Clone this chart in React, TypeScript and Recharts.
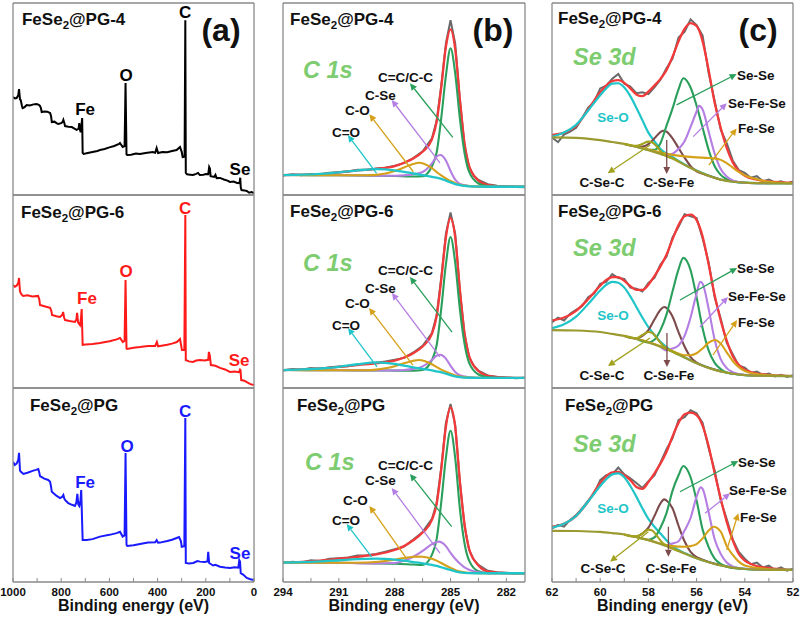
import React from 'react';
import { LineChart, Line, XAxis, YAxis, ReferenceLine, ReferenceDot } from 'recharts';

type Pt = [number, number];

// ---------------- (a) XPS survey spectra: [binding energy, intensity] ----------------
const SURVEY_PG4: Pt[] = [[1000,51],[992,50.3],[985,50.5],[978,52],[975,55.2],[971,49.8],[968,49.5],[963,46.5],[960,45.3],[952,45.8],[943,46.9],[930,46.6],[915,47.2],[902,47.4],[893,47],[888,46.4],[884,45.2],[881,43.2],[870,43.5],[858,43.4],[846,42.7],[842,41],[839,38],[828,38.2],[818,37.3],[812,37],[800,37.4],[794,38.1],[791,39.1],[787,37.5],[784,35.9],[770,35.6],[756,35.4],[745,34.6],[736,33.9],[728,34.5],[725,37.5],[722,33.8],[719,32.8],[716,36],[713,40.1],[711,21.9],[707,21.4],[690,21.9],[670,22.4],[650,22.9],[639,23.4],[620,24],[600,24.8],[580,25.5],[560,26.6],[556,27.1],[545,25],[537,25.5],[533,58.3],[529,21.2],[526,20.8],[510,21],[490,21.6],[473,21.4],[450,21.9],[420,22.4],[410,22],[404,24.5],[398,21.9],[380,22.4],[360,22.3],[340,22.9],[321,23.4],[307,25],[300,22.5],[296,19.8],[288,20],[285,91],[283,11.5],[278,10.8],[265,10.6],[253,10.4],[240,11],[232,11.5],[225,10.4],[210,10.6],[200,10.9],[190,10.8],[186,14.6],[183,13.8],[180,9.8],[165,9.4],[160,10.5],[155,8.8],[141,8.9],[125,8.1],[110,7.5],[100,6.8],[85,7],[70,6.3],[60,6.2],[57,9],[55,4],[52,2.6],[40,2.4],[30,2.1],[20,1.2],[10,1.5],[0,1]];
const SURVEY_PG6: Pt[] = [[1000,53.4],[992,52.5],[985,53],[978,54.5],[975,57],[971,50],[965,48.5],[958,47.7],[940,48],[920,47.4],[896,47.7],[891,46],[888,43],[870,42.4],[846,41.5],[841,40],[838,37.8],[820,37.2],[805,36.8],[796,37.8],[792,39.4],[788,36.5],[784,35.2],[765,34.7],[743,34.2],[737,35.5],[734,38.9],[730,34],[722,32.6],[718,36],[715,40.9],[711,22.3],[700,22.5],[670,22.8],[639,23.3],[600,24.2],[570,25.2],[556,25.9],[544,23.8],[537,24.5],[533,56],[529,20.5],[526,20.2],[500,20.8],[473,21.2],[440,21.8],[410,21.8],[403,23.8],[398,21.6],[390,21.8],[360,22.4],[340,23],[320,23.8],[307,25.4],[299,19.7],[289,19.8],[285,89.6],[283,14.5],[270,13.8],[253,13.5],[240,14.2],[224,14.5],[205,14.2],[190,14.6],[187,18.7],[183,16.5],[179,11.9],[160,11.5],[141,10.4],[120,9.6],[100,8.3],[80,8.5],[62,8.2],[58,9.5],[56,9.2],[53,4.1],[40,3.8],[30,3],[15,2],[0,1.6]];
const SURVEY_PG: Pt[] = [[1000,62],[993,60.3],[985,61],[978,63],[975,66.6],[971,57.5],[968,56.9],[957,55.7],[940,56.3],[916,57.4],[905,57.8],[895,58.2],[891,56.5],[888,54.6],[870,53.3],[854,52.6],[846,51.7],[842,49],[839,46.5],[820,44.5],[805,43.3],[795,44],[791,44.8],[787,43],[784,42.3],[771,40.7],[755,39.8],[743,39.2],[737,41],[733,45.4],[729,40],[725,39.2],[720,42],[717,47.4],[711,21.6],[694,21.6],[670,22.1],[639,23.4],[600,24.3],[570,25.2],[556,25.9],[545,23.4],[537,24],[533,66.5],[529,19.2],[526,18.6],[500,19],[473,19.6],[440,20.3],[410,20.5],[404,21.6],[398,20.2],[390,20.3],[360,21.1],[340,21.8],[321,22.7],[311,23.2],[303,21],[300,18.2],[289,18.5],[285,84.5],[283,9.8],[270,9.6],[252,9.8],[235,10.8],[224,10.5],[205,10.3],[193,10.6],[190,15.6],[186,9.8],[170,8.5],[160,8.9],[141,7.9],[120,7.5],[100,7.2],[80,7.6],[65,7.4],[61,11.3],[58,10.6],[55,4.6],[45,3.8],[30,2.1],[15,1.4],[0,1]];

// ---------------- (b) C 1s ----------------
const C1S_PG4_RAW: Pt[] = [[294,10.2],[293.5,10.8],[293,10.3],[292.5,11],[292,10.7],[291.5,11.6],[291,11.9],[290.5,12.2],[290,13.1],[289.5,13],[289,13.8],[288.5,14.2],[288,15.3],[287.5,16.6],[287,19.2],[286.5,22.8],[286,29.5],[285.75,38.5],[285.5,57],[285.25,79],[285,91],[284.75,79],[284.5,50],[284.25,26],[284,14.5],[283.75,10],[283.5,7.8],[283,5.6],[282.5,4.8],[282,4.5],[281.5,4.2],[281,4.1]];
const C1S_PG4_FIT: Pt[] = [[294,10.4],[293,10.6],[292,10.9],[291,11.8],[290,12.8],[289,13.6],[288,15],[287.5,16.8],[287,19],[286.5,22.5],[286,29],[285.75,38],[285.5,56],[285.25,77],[285,86.3],[284.75,76],[284.5,50],[284.25,27],[284,15],[283.5,7.5],[283,5.2],[282,4.4],[281,4.3]];
const C1S_PG4_CC: Pt[] = [[294,10.4],[291,10.3],[289,10.1],[288,9.9],[287,9.6],[286.5,9.8],[286,15],[285.75,22],[285.5,40],[285.25,62],[285,76.4],[284.75,63.4],[284.5,40],[284.25,22],[284,12],[283.5,6],[283,4.6],[282,4.3],[281,4.3]];
const C1S_PG4_CSE: Pt[] = [[294,10.4],[291,10.3],[289,10.1],[288,10],[287.5,10.2],[287,10.8],[286.5,12],[286,16.5],[285.75,20],[285.55,20.8],[285.25,18],[285,12.5],[284.75,8],[284.5,5.8],[284,4.7],[283.5,4.4],[283,4.3],[281,4.3]];
const C1S_PG4_CO: Pt[] = [[294,10.4],[291,10.3],[289.5,10.3],[289,10.5],[288.5,11.2],[288,12.5],[287.5,14.3],[287,16.2],[286.7,16.8],[286.4,16.2],[286,14],[285.75,12],[285.5,10.2],[285.25,8.6],[285,7.3],[284.75,6.2],[284.5,5.3],[284,4.6],[283,4.3],[281,4.3]];
const C1S_PG4_CDO: Pt[] = [[294,10.4],[293,10.6],[292,11],[291,11.8],[290,12.8],[289,13.5],[288,12.8],[287.5,12],[287,11.2],[286.5,10.3],[286,9.5],[285.75,9],[285.5,8.4],[285.25,7.5],[285,6.6],[284.75,5.7],[284.5,5.1],[284.25,4.7],[284,4.5],[283,4.3],[281,4.3]];

const C1S_PG6_RAW: Pt[] = [[294,9.1],[293.5,9.8],[293,9.4],[292.5,10.3],[292,9.9],[291.5,10.8],[291,11.2],[290.5,11.3],[290,12.2],[289.5,12.6],[289,13.1],[288.5,13.8],[288,14.6],[287.5,15.6],[287,18.4],[286.5,21.9],[286,28.5],[285.75,37.5],[285.5,57],[285.25,80],[285,91],[284.75,80],[284.5,51],[284.25,28],[284,16],[283.75,11.5],[283.5,9],[283,6.5],[282.5,5.7],[282,5.5],[281.5,5.1],[281,5.3]];
const C1S_PG6_FIT: Pt[] = [[294,9.3],[293,9.6],[292,10.1],[291,10.9],[290,11.9],[289,12.8],[288,14.2],[287.5,15.8],[287,18],[286.5,21.5],[286,28],[285.75,37],[285.5,56],[285.25,78],[285,88],[284.75,78],[284.5,51],[284.25,28.5],[284,16.5],[283.5,8.8],[283,6.3],[282,5.4],[281,5.2]];
const C1S_PG6_CC: Pt[] = [[294,9.3],[291,9.2],[289,9.1],[288,9],[287,8.9],[286.5,9.3],[286,14.5],[285.75,22],[285.5,41],[285.25,64],[285,78.2],[284.75,65],[284.5,41],[284.25,23],[284,13],[283.5,7],[283,5.6],[282,5.2],[281,5.2]];
const C1S_PG6_CSE: Pt[] = [[294,9.3],[291,9.2],[289,9.1],[288,9.1],[287.5,9.3],[287,9.9],[286.5,11.2],[286,14.5],[285.75,16.7],[285.55,17.2],[285.25,15.2],[285,11.5],[284.75,8.3],[284.5,6.6],[284,5.6],[283.5,5.3],[283,5.2],[281,5.2]];
const C1S_PG6_CO: Pt[] = [[294,9.3],[291,9.2],[289.5,9.2],[289,9.5],[288.5,10.2],[288,11.3],[287.5,12.8],[287,14.1],[286.7,14.5],[286.4,14],[286,12.3],[285.75,10.9],[285.5,9.5],[285.25,8.4],[285,7.4],[284.75,6.5],[284.5,5.9],[284,5.4],[283,5.2],[281,5.2]];
const C1S_PG6_CDO: Pt[] = [[294,9.3],[293,9.6],[292,10.1],[291,11],[290,12.3],[289,13.3],[288,12.5],[287.5,11.6],[287,10.7],[286.5,9.9],[286,9.1],[285.75,8.6],[285.5,8.1],[285.25,7.4],[285,6.7],[284.75,6],[284.5,5.6],[284.25,5.4],[284,5.3],[283,5.2],[281,5.2]];

const C1S_PG_RAW: Pt[] = [[294,9.8],[293.5,10.4],[293,10.1],[292.5,11.2],[292,10.8],[291.5,12],[291,12.3],[290.5,12.6],[290,13.6],[289.5,13.8],[289,14.4],[288.5,15.6],[288,16.9],[287.5,18.2],[287,21.9],[286.5,25.8],[286,32.5],[285.75,40.5],[285.5,59],[285.25,82],[285,91.8],[284.75,81],[284.5,52],[284.25,29],[284,16.5],[283.75,11.5],[283.5,8.8],[283,5.8],[282.5,5],[282,4.8],[281.5,4.4],[281,4.6]];
const C1S_PG_FIT: Pt[] = [[294,10],[293,10.3],[292,11],[291,12],[290,13],[289,14.2],[288,16.5],[287.5,18.5],[287,21.5],[286.5,25.5],[286,32],[285.75,40],[285.5,58],[285.25,80],[285,90],[284.75,80],[284.5,52],[284.25,30],[284,17],[283.5,8.5],[283,5.5],[282,4.6],[281,4.5]];
const C1S_PG_CC: Pt[] = [[294,10],[291,9.9],[289,9.6],[288,9.4],[287,9],[286.5,8.8],[286,14],[285.75,22],[285.5,41],[285.25,64],[285,78],[284.75,64],[284.5,38],[284.25,20],[284,11],[283.5,5.5],[283,4.6],[282,4.5],[281,4.5]];
const C1S_PG_CSE: Pt[] = [[294,10],[291,9.9],[289,9.6],[288,9.8],[287.5,11],[287,13],[286.5,16],[286,19.5],[285.75,20.6],[285.6,20.8],[285.5,20.5],[285.25,18.5],[285,15],[284.75,12],[284.5,9.5],[284.25,7.5],[284,6.3],[283.5,5],[283,4.6],[281,4.5]];
const C1S_PG_CO: Pt[] = [[294,10],[291,9.9],[290,9.9],[289,10.3],[288,11.5],[287.5,12.4],[287,13],[286.75,13.1],[286.5,13],[286,12],[285.75,11],[285.5,9.8],[285.25,8.5],[285,7.3],[284.75,6.2],[284.5,5.4],[284.25,5],[284,4.7],[283,4.5],[281,4.5]];
const C1S_PG_CDO: Pt[] = [[294,10],[293,10.2],[292,10.6],[291,11.2],[290,11.8],[289,12],[288,11.5],[287.5,11],[287,10.3],[286.5,9.6],[286,8.8],[285.75,8.3],[285.5,7.6],[285.25,6.9],[285,6.2],[284.75,5.5],[284.5,5],[284.25,4.7],[284,4.6],[283,4.5],[281,4.5]];

// ---------------- (c) Se 3d ----------------
const SE3D_PG4_RAW: Pt[] = [[62,30],[61.75,27.5],[61.5,31.5],[61.25,33],[61,35],[60.75,40],[60.5,45.5],[60.25,48.5],[60,55.5],[59.75,57],[59.5,60.5],[59.25,63],[59,58],[58.75,56.5],[58.5,53],[58.25,53.5],[58,52.5],[57.75,56],[57.5,60],[57.25,66],[57,71],[56.75,82],[56.5,85],[56.25,91.5],[56,88.5],[55.75,83],[55.5,63.5],[55.25,49],[55,34],[54.75,27],[54.5,18],[54.25,13],[54,11.5],[53.75,9],[53.5,9.8],[53.25,7.2],[53,8],[52.75,6.5],[52.5,7.2],[52.25,6],[52,7]];
const SE3D_PG4_FIT: Pt[] = [[62,31.3],[61.5,32.5],[61,36],[60.5,44.5],[60,53.5],[59.75,57],[59.5,59.3],[59.25,59.8],[59,58.4],[58.75,55.5],[58.5,52.4],[58.25,51.5],[58,53.8],[57.75,57],[57.5,60.5],[57.25,65],[57,72],[56.75,80],[56.5,86.5],[56.25,89.5],[56,88],[55.75,80],[55.5,65],[55.25,48],[55,35],[54.75,24.5],[54.5,17],[54.25,12.5],[54,10],[53.5,8],[53,7],[52.5,6.6],[52,6.4]];
const SE3D_PG4_SEO: Pt[] = [[62,30.4],[61.5,32.5],[61,36.5],[60.5,44],[60,52],[59.75,55.5],[59.5,58],[59.25,58.2],[59,56],[58.75,51.5],[58.5,45.5],[58.25,39],[58,32.5],[57.75,28],[57.5,24],[57,19.8],[56.5,15.9],[56,12.7],[55.5,10.1],[55,8.1],[54.5,7],[54,6.4],[53,6.1],[52,6]];
const SE3D_PG4_CSEC: Pt[] = [[59,26.6],[58.75,25.9],[58.5,25.6],[58.25,26.6],[58,27.8],[57.85,27.5],[57.6,24.5],[57.4,21.5],[57.2,20.2],[57,19.2],[56.75,17.5]];
const SE3D_PG4_CSEFE: Pt[] = [[59,26.6],[58.5,25.3],[58.25,25.2],[58,26.5],[57.75,29.5],[57.5,32.8],[57.38,33.5],[57.25,33],[57,29.5],[56.75,24.5],[56.5,19.5],[56.25,15],[56,12.3],[55.75,11],[55.5,10],[55,8]];
const SE3D_PG4_SESE: Pt[] = [[58.5,25.1],[58,23.6],[57.75,23.5],[57.5,27],[57.25,36],[57,45],[56.75,55],[56.55,60.8],[56.25,56],[56,46.5],[55.75,35],[55.5,23.5],[55.25,15],[55,10.5],[54.75,8.2],[54.5,7.1],[54,6.4],[53,6.1]];
const SE3D_PG4_SEFESE: Pt[] = [[57.5,21.4],[57.25,20.8],[57,21.5],[56.75,24],[56.5,28],[56.25,35.5],[56,43.5],[55.9,46.4],[55.75,44.5],[55.5,33],[55.25,21.5],[55,13.5],[54.75,9.6],[54.5,7.6],[54.25,6.8],[54,6.4],[53,6.1]];
const SE3D_PG4_FESE: Pt[] = [[58.5,25.1],[58,23.7],[57.5,22.1],[57,20.9],[56.5,20.1],[56,19.6],[55.5,19.3],[55.25,19],[55,18.3],[54.75,16.6],[54.5,14.3],[54.25,12],[54,10.2],[53.5,8.2],[53,6.9],[52.5,6.3],[52,6.1]];
const SE3D_PG4_BG: Pt[] = [[62,30],[61,29.8],[60,28.6],[59.5,27.6],[59,26.6],[58.5,25.1],[58,23.4],[57.5,21.4],[57,19],[56.5,15.7],[56,12.6],[55.5,10],[55,8],[54.5,6.9],[54,6.4],[53,6.1],[52,6]];

const SE3D_PG6_RAW: Pt[] = [[62,34],[61.75,36.5],[61.5,35],[61.25,38.5],[61,40.5],[60.75,42.5],[60.5,47],[60.25,49],[60,54],[59.75,55],[59.5,59],[59.25,57],[59,56.5],[58.75,52],[58.5,51.5],[58.25,50],[58,54.5],[57.75,57],[57.5,64],[57.25,68],[57,78],[56.75,83.5],[56.5,90],[56.25,89],[56,88],[55.75,77.5],[55.5,65],[55.25,47],[55,36],[54.75,23.5],[54.5,17.5],[54.25,11.5],[54,10.5],[53.75,7.8],[53.5,8.5],[53.25,6.8],[53,7.5],[52.75,6],[52.5,6.9],[52.25,5.7],[52,6.6]];
const SE3D_PG6_FIT: Pt[] = [[62,35],[61.5,36.5],[61,40],[60.5,46],[60,53],[59.75,56],[59.5,57.5],[59.25,57.5],[59,55.5],[58.75,52.8],[58.5,50.8],[58.25,50.8],[58,53.5],[57.75,58],[57.5,63],[57.25,69],[57,77],[56.75,84.5],[56.5,89],[56.25,89.8],[56,87],[55.75,78.5],[55.5,64],[55.25,48],[55,35],[54.75,24.5],[54.5,16.5],[54.25,12],[54,9.5],[53.75,8.3],[53.5,7.5],[53,6.8],[52.5,6.4],[52,6.2]];
const SE3D_PG6_SEO: Pt[] = [[62,31],[61.5,33],[61,37],[60.5,43.5],[60,50.5],[59.75,53.5],[59.5,55],[59.25,54.5],[59,52],[58.75,47.5],[58.5,42],[58.25,36.5],[58,31.5],[57.75,27.5],[57.5,24],[57,19],[56.5,15.9],[56,12.9],[55.5,10.5],[55,8.7],[54.5,7.4],[54,6.7],[53,6.3],[52,6.2]];
const SE3D_PG6_CSEC: Pt[] = [[59,27],[58.75,26],[58.5,25.8],[58.25,27.5],[58,29],[57.85,28.6],[57.6,25],[57.4,22],[57.2,20.2],[57,18.8],[56.75,17.3]];
const SE3D_PG6_CSEFE: Pt[] = [[59,27],[58.5,25.6],[58.25,27],[58,30],[57.75,35.5],[57.5,40.5],[57.35,42],[57.25,41.5],[57,37],[56.75,29],[56.5,21.5],[56.25,16],[56,13.2],[55.75,11.6],[55.5,10.5],[55,8.6]];
const SE3D_PG6_SESE: Pt[] = [[58.5,25.5],[58,23.6],[57.75,25],[57.5,30],[57.25,38],[57,50],[56.75,61.5],[56.55,67.4],[56.25,61],[56,47],[55.75,31],[55.5,19.5],[55.25,13],[55,9.8],[54.75,8],[54.5,7.4],[54,6.7],[53,6.3]];
const SE3D_PG6_SEFESE: Pt[] = [[57.5,21.4],[57.25,19.5],[57,20.5],[56.75,22],[56.5,27],[56.25,36.5],[56,49],[55.85,55],[55.75,54],[55.5,41],[55.25,25],[55,15],[54.75,10.3],[54.5,8.2],[54.25,7.3],[54,6.8],[53,6.3]];
const SE3D_PG6_FESE: Pt[] = [[58.5,25.5],[58,23.8],[57.5,21.6],[57,19.2],[56.5,17],[56.25,17],[56,18],[55.75,20.5],[55.5,23.5],[55.25,24.9],[55,23],[54.75,18.5],[54.5,14],[54.25,10.8],[54,8.8],[53.5,7.2],[53,6.6],[52.5,6.3],[52,6.2]];
const SE3D_PG6_BG: Pt[] = [[62,30],[61,29.8],[60,29],[59.5,28],[59,27],[58.5,25.5],[58,23.6],[57.5,21.4],[57,18.8],[56.5,15.8],[56,12.8],[55.5,10.4],[55,8.6],[54.5,7.4],[54,6.7],[53,6.3],[52,6.2]];

const SE3D_PG_RAW: Pt[] = [[62,27.5],[61.75,29.5],[61.5,28.5],[61.25,32],[61,34.5],[60.75,38],[60.5,42],[60.25,45.5],[60,52.5],[59.75,55],[59.5,55.5],[59.25,59],[59,55.5],[58.75,53.5],[58.5,51],[58.25,48.5],[58,52],[57.75,55],[57.5,61.5],[57.25,68.5],[57,74],[56.75,83.5],[56.5,85],[56.25,88.5],[56,87],[55.75,82],[55.5,69],[55.25,57.5],[55,42],[54.75,32.5],[54.5,22],[54.25,15.5],[54,12],[53.75,9.2],[53.5,10],[53.25,7.5],[53,8.4],[52.75,6.2],[52.5,7.5],[52.25,5.8],[52,6.8]];
const SE3D_PG_FIT: Pt[] = [[62,28.5],[61.5,30],[61,34],[60.5,41.5],[60,51],[59.75,54.5],[59.5,56.5],[59.25,56.8],[59,55],[58.75,52.5],[58.5,49],[58.25,48],[58,51.5],[57.75,56],[57.5,61],[57.25,67],[57,75],[56.75,82],[56.5,86.5],[56.25,87.3],[56,86],[55.75,80.5],[55.5,70],[55.25,56],[55,43],[54.75,31],[54.5,21.5],[54.25,14.5],[54,11],[53.75,9.3],[53.5,8.2],[53,7.1],[52.5,6.6],[52,6.2]];
const SE3D_PG_SEO: Pt[] = [[62,28],[61.5,30],[61,34],[60.5,41.5],[60,49.5],[59.75,53],[59.5,55.5],[59.25,56],[59,54],[58.75,49.5],[58.5,44],[58.25,38],[58,32.5],[57.75,28.5],[57.5,25],[57,18.5],[56.5,14.9],[56,12.3],[55.5,10.3],[55,8.7],[54.5,7.5],[54,6.8],[53,6.3],[52,6.2]];
const SE3D_PG_CSEC: Pt[] = [[59,24.5],[58.75,23.6],[58.5,23.5],[58.25,25],[58,27],[57.85,26.6],[57.6,23],[57.4,20],[57.2,18.4],[57,17.3],[56.75,16]];
const SE3D_PG_CSEFE: Pt[] = [[59,24.5],[58.5,23.4],[58.25,25],[58,28],[57.75,34],[57.5,40.5],[57.35,42.6],[57.25,42],[57,38],[56.75,29],[56.5,21],[56.25,15.5],[56,12.8],[55.75,11.5],[55.5,10.3],[55,8.6]];
const SE3D_PG_SESE: Pt[] = [[58.5,23.2],[58,21.8],[57.75,23],[57.5,28],[57.25,35.5],[57,47],[56.75,55],[56.55,59.8],[56.25,54],[56,42],[55.75,27],[55.5,18],[55.25,12],[55,9.3],[54.75,7.8],[54.5,7.2],[54,6.7],[53,6.3]];
const SE3D_PG_SEFESE: Pt[] = [[57.5,19.6],[57.25,18.8],[57,19.8],[56.75,21],[56.5,26.5],[56.25,33],[56,44],[55.83,48.8],[55.75,48],[55.5,36],[55.25,22],[55,14.5],[54.75,10],[54.5,8],[54.25,7.2],[54,6.8],[53,6.3]];
const SE3D_PG_FESE: Pt[] = [[58.5,23.2],[58,21.6],[57.5,19.8],[57,18.5],[56.5,18.2],[56.25,18.5],[56,19.5],[55.75,22.5],[55.5,26.5],[55.3,28.5],[55,26],[54.75,18.5],[54.5,14],[54.25,10.5],[54,8.5],[53.5,7.3],[53,6.6],[52.5,6.3],[52,6.2]];
const SE3D_PG_BG: Pt[] = [[62,26.4],[61,26.3],[60,25.8],[59.5,25.2],[59,24.5],[58.5,23.2],[58,21.6],[57.5,19.6],[57,17.3],[56.5,14.7],[56,12.2],[55.5,10.2],[55,8.6],[54.5,7.4],[54,6.7],[53,6.3],[52,6.2]];

// ---------------- ticks ----------------
const TICKS_A = [1000, 900, 800, 700, 600, 500, 400, 300, 200, 100, 0];
const TICKS_B = [294, 292.5, 291, 289.5, 288, 286.5, 285, 283.5, 282];
const TICKS_C = [62, 61, 60, 59, 58, 57, 56, 55, 54, 53, 52];

// ---------------- styling ----------------
const FONT = '"Liberation Sans", Arial, Helvetica, sans-serif';
const FRAME = '#8a8a8a';
const DARK = '#111111';
const K = {
  raw: '#6a6a6a', fit: '#f23a3a', green: '#2a9f5b', purple: '#b47ee2', orange: '#d6a11a',
  cyan: '#1fc5c8', brown: '#7d4b4b', olive: '#a2a21e', bg: '#9a9a30', label: '#7dcc70',
};

type S = { pts: Pt[]; color: string; w?: number; curve?: 'linear' | 'monotone' };
type Txt = { x: number; y: number; s: string; size: number; anchor?: 'start' | 'middle' | 'end'; color?: string; italic?: boolean; sample?: boolean };
type Arr = { x1: number; y1: number; x2: number; y2: number; c: string };

const textShape = (t: Txt) => (p: any) => (
  <text x={p.cx} y={p.cy} textAnchor={t.anchor || 'start'} fontFamily={FONT} fontWeight={700}
    fontStyle={t.italic ? 'italic' : 'normal'} fontSize={t.size} fill={t.color || DARK}>
    {t.sample
      ? [<tspan key="a">FeSe</tspan>, <tspan key="b" dy={4} fontSize={t.size * 0.68}>2</tspan>, <tspan key="c" dy={-4}>{t.s}</tspan>]
      : t.s}
  </text>
);

const arrowShape = (c: string) => (p: any) => {
  const { x1, y1, x2, y2 } = p;
  const a = Math.atan2(y2 - y1, x2 - x1);
  const L = 7, W = 3.4;
  const bx = x2 - L * Math.cos(a), by = y2 - L * Math.sin(a);
  const nx = -Math.sin(a) * W, ny = Math.cos(a) * W;
  return (
    <g>
      <line x1={x1} y1={y1} x2={bx} y2={by} stroke={c} strokeWidth={1.3} />
      <polygon points={`${x2},${y2} ${bx + nx},${by + ny} ${bx - nx},${by - ny}`} fill={c} />
    </g>
  );
};

type PanelProps = {
  L: number; T: number; W: number; H: number; domain: [number, number];
  ticks: number[]; fmt: (v: number) => string; bottom: boolean;
  series: S[]; texts: Txt[]; arrows: Arr[];
};

function Panel({ L, T, W, H, domain, ticks, fmt, bottom, series, texts, arrows }: PanelProps) {
  const mx = 16;
  const axisLine = { stroke: FRAME, strokeWidth: 1.3 };
  return (
    <div style={{ position: 'absolute', left: L - mx, top: T - 1 }}>
      <LineChart width={W + 2 * mx} height={1 + H + (bottom ? 36 : 1)}
        margin={{ top: 0, right: mx - 1, bottom: 0, left: mx - 1 }}>
        <XAxis dataKey="x" type="number" domain={domain} reversed allowDataOverflow
          ticks={ticks} interval={0} tickFormatter={fmt}
          height={bottom ? 36 : 1} axisLine={axisLine}
          tick={bottom ? { fontSize: 11.5, fontWeight: 700, fill: DARK, fontFamily: FONT } : false}
          tickLine={bottom ? { stroke: FRAME, strokeWidth: 1 } : false}
          tickSize={-4} tickMargin={10}
          label={bottom ? { value: 'Binding energy (eV)', position: 'insideBottom', offset: 7, fill: DARK, fontSize: 16, fontWeight: 700, fontFamily: FONT } : undefined}
        />
        <XAxis xAxisId="top" orientation="top" type="number" domain={domain} reversed allowDataOverflow
          height={1} tick={false} tickLine={false} axisLine={axisLine} />
        <YAxis type="number" domain={[0, 100]} allowDataOverflow width={1} tick={false} tickLine={false} axisLine={axisLine} />
        <YAxis yAxisId="r" orientation="right" type="number" domain={[0, 100]} allowDataOverflow width={1} tick={false} tickLine={false} axisLine={axisLine} />
        {series.map((s, i) => (
          <Line key={i} data={s.pts.map(([x, y]) => ({ x, y }))} dataKey="y" type={s.curve || 'monotone'}
            stroke={s.color} strokeWidth={s.w || 2.1} dot={false} activeDot={false} isAnimationActive={false} />
        ))}
        {arrows.map((a, i) => (
          <ReferenceLine key={'a' + i} segment={[{ x: a.x1, y: a.y1 }, { x: a.x2, y: a.y2 }]} ifOverflow="visible" shape={arrowShape(a.c)} />
        ))}
        {texts.map((t, i) => (
          <ReferenceDot key={'t' + i} x={t.x} y={t.y} r={1} ifOverflow="visible" shape={textShape(t)} />
        ))}
      </LineChart>
    </div>
  );
}

const COLS = [
  { L: 13, W: 241, domain: [0, 1000] as [number, number], ticks: TICKS_A, fmt: (v: number) => (v % 200 === 0 ? String(v) : '') },
  { L: 283, W: 242, domain: [281, 294] as [number, number], ticks: TICKS_B, fmt: (v: number) => ((294 - v) % 3 === 0 ? String(v) : '') },
  { L: 552, W: 241, domain: [52, 62] as [number, number], ticks: TICKS_C, fmt: (v: number) => (v % 2 === 0 ? String(v) : '') },
];
const ROWS = [{ T: 3, H: 192 }, { T: 195, H: 193 }, { T: 388, H: 194 }];

const surveySeries = (pts: Pt[], color: string): S[] => [{ pts, color, w: 2, curve: 'linear' }];
const c1sSeries = (raw: Pt[], fit: Pt[], cc: Pt[], cse: Pt[], co: Pt[], cdo: Pt[]): S[] => [
  { pts: raw, color: K.raw, w: 2, curve: 'linear' },
  { pts: fit, color: K.fit, w: 2.3 },
  { pts: cc, color: K.green, w: 2.1 },
  { pts: cse, color: K.purple, w: 2.1 },
  { pts: co, color: K.orange, w: 2.1 },
  { pts: cdo, color: K.cyan, w: 2.3 },
];
const se3dSeries = (raw: Pt[], fit: Pt[], seo: Pt[], csec: Pt[], csefe: Pt[], sese: Pt[], sefese: Pt[], fese: Pt[], bg: Pt[]): S[] => [
  { pts: raw, color: K.raw, w: 2, curve: 'linear' },
  { pts: fit, color: K.fit, w: 2.3 },
  { pts: seo, color: K.cyan, w: 2.2 },
  { pts: csefe, color: K.brown, w: 2.1 },
  { pts: sese, color: K.green, w: 2.1 },
  { pts: sefese, color: K.purple, w: 2.1 },
  { pts: fese, color: K.orange, w: 2.1 },
  { pts: bg, color: K.bg, w: 2.2 },
  { pts: csec, color: K.olive, w: 2.1 },
];

const sample = (x: number, y: number, s: string): Txt => ({ x, y, s, size: 17, sample: true });
const big = (x: number, y: number, s: string): Txt => ({ x, y, s, size: 32, anchor: 'middle' });
const el = (x: number, y: number, s: string, color: string): Txt => ({ x, y, s, size: 17, anchor: 'middle', color });
const pk = (x: number, y: number, s: string, anchor: 'start' | 'middle' = 'start', color?: string): Txt => ({ x, y, s, size: 13.5, anchor, color });
const core = (x: number, y: number, s: string): Txt => ({ x, y, s, size: 23.5, italic: true, color: K.label });

const PANELS: { col: number; row: number; series: S[]; texts: Txt[]; arrows: Arr[] }[] = [
  // ----- column (a) -----
  { col: 0, row: 0, series: surveySeries(SURVEY_PG4, '#000000'),
    texts: [sample(962.7, 88.5, '@PG-4'), big(137, 80.2, '(a)'), el(286, 92.2, 'C', '#000'), el(531, 59.4, 'O', '#000'), el(701, 41.7, 'Fe', '#000'), el(58, 10.4, 'Se', '#000')], arrows: [] },
  { col: 0, row: 1, series: surveySeries(SURVEY_PG6, '#ff1a1a'),
    texts: [sample(966.8, 88.1, '@PG-6'), el(286, 90.2, 'C', '#ff1a1a'), el(531, 57.5, 'O', '#ff1a1a'), el(693, 43.5, 'Fe', '#ff1a1a'), el(62, 11.4, 'Se', '#ff1a1a')], arrows: [] },
  { col: 0, row: 2, series: surveySeries(SURVEY_PG, '#1a1aff'),
    texts: [sample(929.5, 88.1, '@PG'), el(286, 85, 'C', '#1a1aff'), el(527, 67, 'O', '#1a1aff'), el(701, 48.5, 'Fe', '#1a1aff'), el(58, 11.9, 'Se', '#1a1aff')], arrows: [] },
  // ----- column (b) -----
  { col: 1, row: 0, series: c1sSeries(C1S_PG4_RAW, C1S_PG4_FIT, C1S_PG4_CC, C1S_PG4_CSE, C1S_PG4_CO, C1S_PG4_CDO),
    texts: [sample(293.62, 88.5, '@PG-4'), big(282.72, 80.2, '(b)'), core(292.93, 60.9, 'C 1s'),
      pk(288.9, 58.9, 'C=C/C-C'), pk(289.6, 49.5, 'C-Se'), pk(290.67, 41.7, 'C-O'), pk(291.37, 30.2, 'C=O')],
    arrows: [
      { x1: 284.88, y1: 30, x2: 287.18, y2: 58.2, c: K.green },
      { x1: 285.57, y1: 16.7, x2: 288.16, y2: 49.5, c: K.purple },
      { x1: 287.0, y1: 12.1, x2: 289.36, y2: 42, c: K.orange },
      { x1: 288.97, y1: 11.3, x2: 290.52, y2: 31.2, c: K.cyan },
    ] },
  { col: 1, row: 1, series: c1sSeries(C1S_PG6_RAW, C1S_PG6_FIT, C1S_PG6_CC, C1S_PG6_CSE, C1S_PG6_CO, C1S_PG6_CDO),
    texts: [sample(293.62, 88.6, '@PG-6'), core(292.93, 60.6, 'C 1s'),
      pk(288.9, 58.5, 'C=C/C-C'), pk(289.6, 49.2, 'C-Se'), pk(290.67, 41.5, 'C-O'), pk(291.37, 30.1, 'C=O')],
    arrows: [
      { x1: 284.92, y1: 29, x2: 287.18, y2: 57.5, c: K.green },
      { x1: 285.57, y1: 16.1, x2: 288.15, y2: 49.2, c: K.purple },
      { x1: 287.02, y1: 11.9, x2: 289.38, y2: 41.5, c: K.orange },
      { x1: 288.95, y1: 10.9, x2: 290.51, y2: 31.1, c: K.cyan },
    ] },
  { col: 1, row: 2, series: c1sSeries(C1S_PG_RAW, C1S_PG_FIT, C1S_PG_CC, C1S_PG_CSE, C1S_PG_CO, C1S_PG_CDO),
    texts: [sample(293.25, 88.1, '@PG'), core(292.82, 57.7, 'C 1s'),
      pk(288.9, 57.7, 'C=C/C-C'), pk(289.6, 50, 'C-Se'), pk(290.78, 39.7, 'C-O'), pk(291.37, 29.4, 'C=O')],
    arrows: [
      { x1: 284.94, y1: 28.5, x2: 287.18, y2: 55.7, c: K.green },
      { x1: 285.57, y1: 14.9, x2: 288.16, y2: 48.5, c: K.purple },
      { x1: 287.35, y1: 11.9, x2: 289.36, y2: 39.2, c: K.orange },
      { x1: 289.24, y1: 13, x2: 290.58, y2: 29.9, c: K.cyan },
    ] },
  // ----- column (c) -----
  { col: 2, row: 0, series: se3dSeries(SE3D_PG4_RAW, SE3D_PG4_FIT, SE3D_PG4_SEO, SE3D_PG4_CSEC, SE3D_PG4_CSEFE, SE3D_PG4_SESE, SE3D_PG4_SEFESE, SE3D_PG4_FESE, SE3D_PG4_BG),
    texts: [sample(61.75, 89, '@PG-4'), big(53.45, 80.2, '(c)'), core(61.13, 67.7, 'Se 3d'),
      pk(54.32, 59.9, 'Se-Se'), pk(54.7, 45.3, 'Se-Fe-Se'), pk(54.28, 32.3, 'Fe-Se'),
      pk(59.47, 38, 'Se-O', 'middle', K.cyan), pk(59.93, 4.2, 'C-Se-C', 'middle'), pk(57.15, 4.2, 'C-Se-Fe', 'middle')],
    arrows: [
      { x1: 56.83, y1: 46.9, x2: 54.34, y2: 63, c: K.green },
      { x1: 56.14, y1: 30.4, x2: 54.75, y2: 47.8, c: K.purple },
      { x1: 55.49, y1: 15.6, x2: 54.34, y2: 34.7, c: K.orange },
      { x1: 57.93, y1: 26, x2: 59.69, y2: 11.3, c: K.olive },
      { x1: 57.24, y1: 28.6, x2: 57.24, y2: 10.9, c: K.brown },
    ] },
  { col: 2, row: 1, series: se3dSeries(SE3D_PG6_RAW, SE3D_PG6_FIT, SE3D_PG6_SEO, SE3D_PG6_CSEC, SE3D_PG6_CSEFE, SE3D_PG6_SESE, SE3D_PG6_SEFESE, SE3D_PG6_FESE, SE3D_PG6_BG),
    texts: [sample(61.75, 88.6, '@PG-6'), core(61.13, 68.4, 'Se 3d'),
      pk(54.32, 59.6, 'Se-Se'), pk(54.7, 45.1, 'Se-Fe-Se'), pk(54.28, 31.6, 'Fe-Se'),
      pk(59.47, 35.2, 'Se-O', 'middle', K.cyan), pk(59.93, 4.1, 'C-Se-C', 'middle'), pk(57.15, 4.1, 'C-Se-Fe', 'middle')],
    arrows: [
      { x1: 56.69, y1: 45.6, x2: 54.32, y2: 62.2, c: K.green },
      { x1: 55.86, y1: 31.6, x2: 54.7, y2: 47.2, c: K.purple },
      { x1: 55.32, y1: 17.1, x2: 54.32, y2: 35.2, c: K.orange },
      { x1: 57.93, y1: 25.9, x2: 59.68, y2: 11.4, c: K.olive },
      { x1: 57.23, y1: 28.5, x2: 57.23, y2: 10.9, c: K.brown },
    ] },
  { col: 2, row: 2, series: se3dSeries(SE3D_PG_RAW, SE3D_PG_FIT, SE3D_PG_SEO, SE3D_PG_CSEC, SE3D_PG_CSEFE, SE3D_PG_SESE, SE3D_PG_SEFESE, SE3D_PG_FESE, SE3D_PG_BG),
    texts: [sample(61.46, 88.1, '@PG'), core(61.13, 67, 'Se 3d'),
      pk(54.28, 59.3, 'Se-Se'), pk(54.66, 44.8, 'Se-Fe-Se'), pk(54.2, 30.9, 'Fe-Se'),
      pk(59.47, 35.6, 'Se-O', 'middle', K.cyan), pk(59.88, 4.6, 'C-Se-C', 'middle'), pk(57.06, 4.6, 'C-Se-Fe', 'middle')],
    arrows: [
      { x1: 56.69, y1: 46.5, x2: 54.27, y2: 62.4, c: K.green },
      { x1: 55.65, y1: 35.4, x2: 54.61, y2: 45.7, c: K.purple },
      { x1: 54.75, y1: 16.5, x2: 54.27, y2: 35.4, c: K.orange },
      { x1: 58.0, y1: 25.9, x2: 59.59, y2: 10.5, c: K.olive },
      { x1: 57.17, y1: 28.5, x2: 57.17, y2: 13, c: K.brown },
    ] },
];

export default function App() {
  return (
    <div style={{ position: 'absolute', left: 0, top: 0, width: 800, height: 618, overflow: 'hidden', background: '#fff', fontFamily: FONT }}>
      {PANELS.map((p, i) => {
        const c = COLS[p.col];
        const r = ROWS[p.row];
        return (
          <Panel key={i} L={c.L} T={r.T} W={c.W} H={r.H} domain={c.domain} ticks={c.ticks} fmt={c.fmt}
            bottom={p.row === 2} series={p.series} texts={p.texts} arrows={p.arrows} />
        );
      })}
    </div>
  );
}
